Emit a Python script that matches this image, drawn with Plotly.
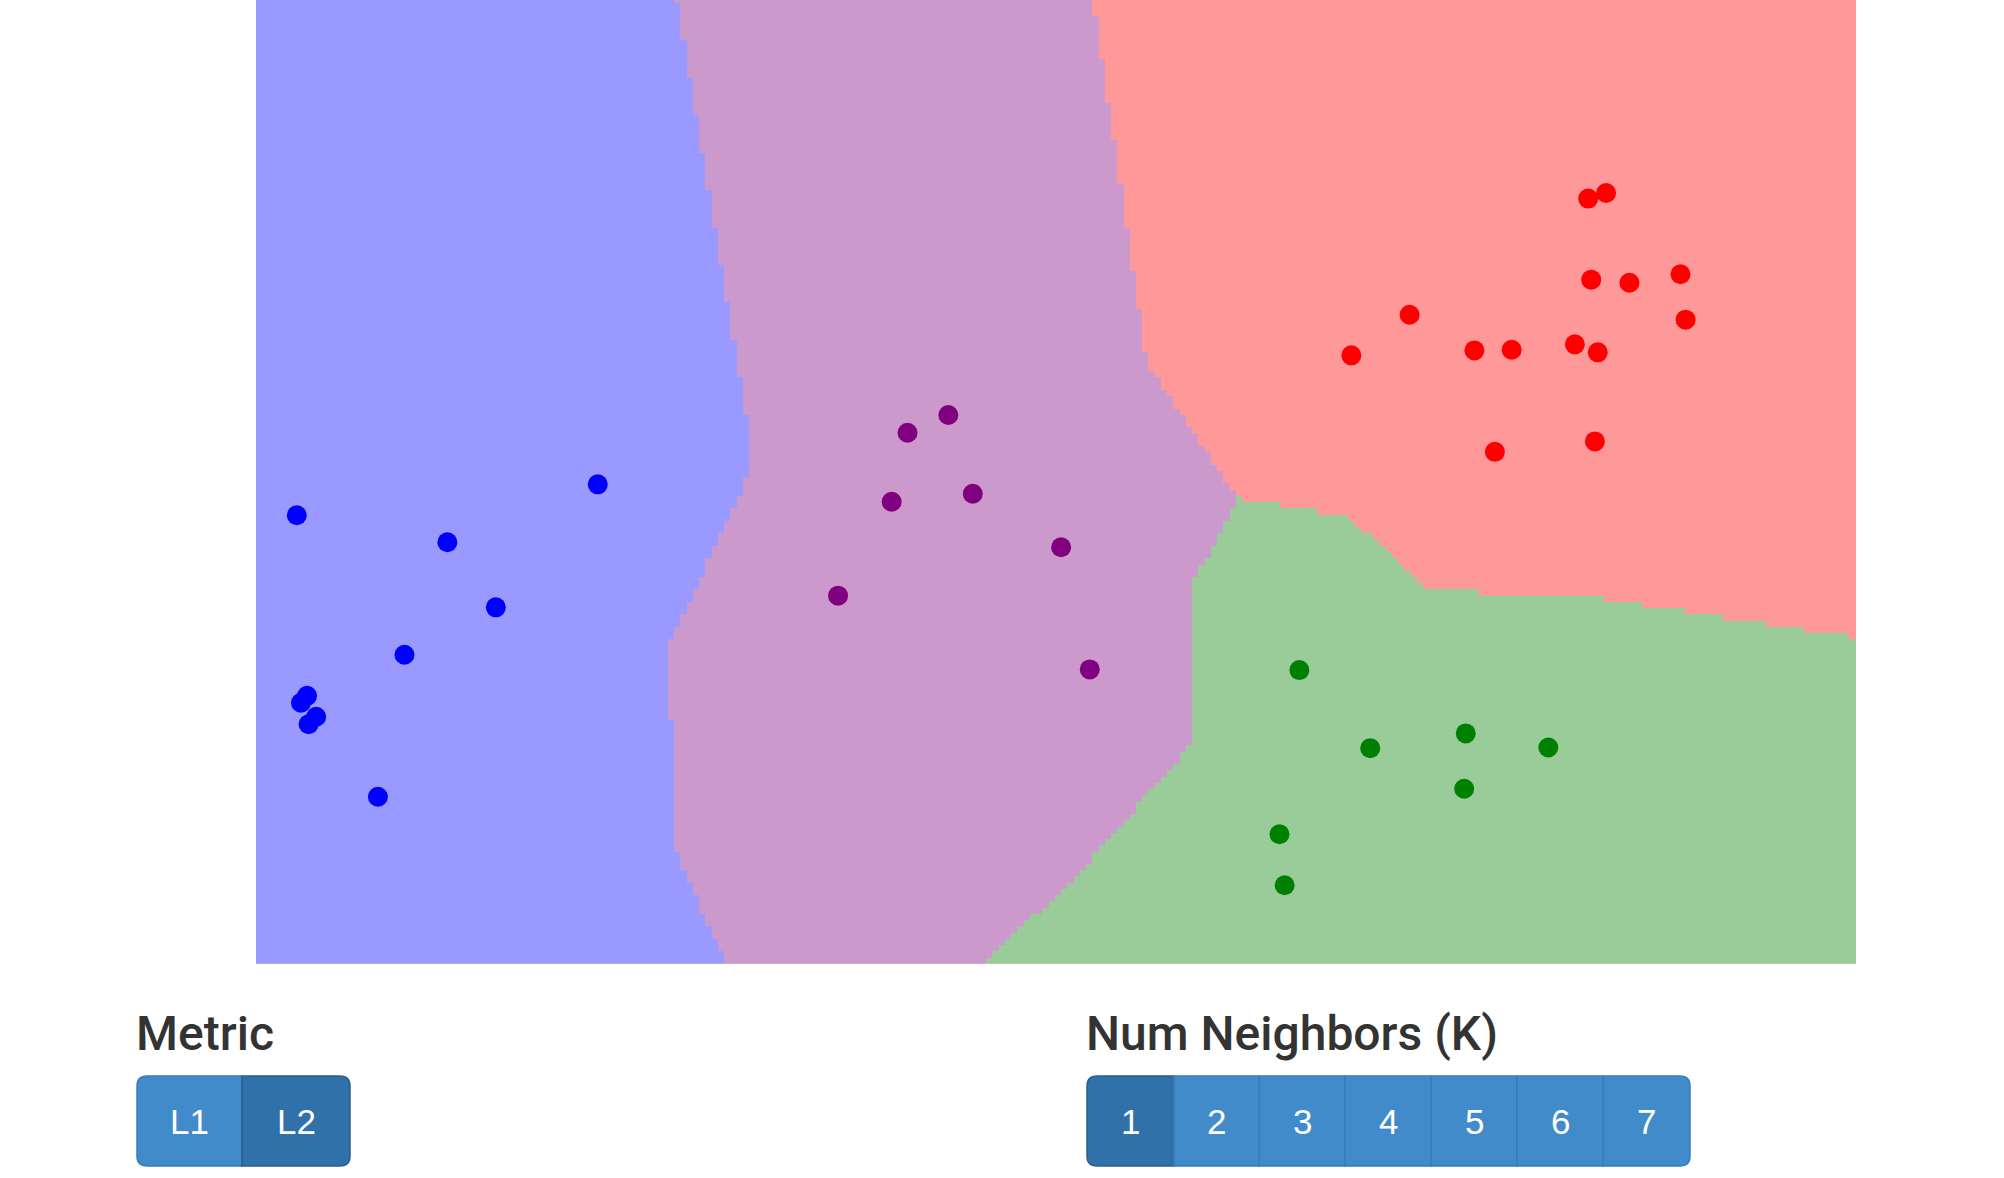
import numpy as np
import plotly.graph_objects as go

# ---------------- data (plot units: x 0..100, y 0..60.25) ----------------
blue_x = [2.55, 11.96, 21.36, 14.99, 9.28, 3.19, 2.81, 3.76, 3.29, 7.62]
blue_y = [28.05, 26.36, 29.98, 22.29, 19.33, 16.76, 16.33, 15.45, 14.99, 10.45]

purple_x = [43.27, 40.72, 39.73, 44.80, 36.38, 50.32, 52.11]
purple_y = [34.31, 33.20, 28.89, 29.39, 23.02, 26.05, 18.41]

red_x = [83.26, 84.38, 83.45, 85.84, 89.03, 89.35, 72.10, 68.46, 76.15, 78.48,
         82.43, 83.86, 77.43, 83.68]
red_y = [47.84, 48.19, 42.77, 42.58, 43.11, 40.27, 40.58, 38.04, 38.35, 38.39,
         38.73, 38.23, 32.01, 32.66]

green_x = [65.21, 69.64, 75.61, 80.77, 75.51, 63.97, 64.29]
green_y = [18.37, 13.49, 14.41, 13.53, 10.95, 8.11, 4.92]

point_colors = ["#0000ff", "#800080", "#ff0000", "#008000"]
region_colors = ["#9999ff", "#cc99cc", "#ff9999", "#99cc99"]

metric_labels = ["L1", "L2"]
active_metric = "L2"
k_labels = ["1", "2", "3", "4", "5", "6", "7"]
active_k = "1"

X_RANGE = [0, 100]
Y_RANGE = [0, 60.25]

# ---------------- KNN decision regions ----------------
classes = [(blue_x, blue_y), (purple_x, purple_y), (red_x, red_y), (green_x, green_y)]
tx = np.concatenate([np.array(c[0]) for c in classes])
ty = np.concatenate([np.array(c[1]) for c in classes])
tl = np.concatenate([np.full(len(c[0]), i) for i, c in enumerate(classes)])

cell = 0.39
gx = np.arange(X_RANGE[0] + cell / 2, X_RANGE[1] + cell / 2, cell)
gy = np.arange(Y_RANGE[0] + cell / 2, Y_RANGE[1] + cell / 2, cell)
GX, GY = np.meshgrid(gx, gy)
dx = GX[..., None] - tx
dy = GY[..., None] - ty
if active_metric == "L2":
    d = np.sqrt(dx ** 2 + dy ** 2)
else:
    d = np.abs(dx) + np.abs(dy)
K = int(active_k)
idx = np.argsort(d, axis=-1)[..., :K]
nl = tl[idx]
votes = np.stack([(nl == c).sum(-1) for c in range(4)], -1)
Z = np.argmax(votes, -1)

cs = []
n = len(region_colors)
for i, c in enumerate(region_colors):
    cs.append([i / n, c])
    cs.append([(i + 1) / n, c])

fig = go.Figure()
fig.add_trace(go.Heatmap(x=gx, y=gy, z=Z, zmin=-0.5, zmax=3.5, colorscale=cs,
                         showscale=False, zsmooth=False, hoverinfo="skip"))
for (xs, ys), col in zip(classes, point_colors):
    fig.add_trace(go.Scatter(x=xs, y=ys, mode="markers",
                             marker=dict(size=20, color=col, line=dict(width=0)),
                             showlegend=False))

# ---------------- layout helpers (pixel -> paper) ----------------
W, H = 2004, 1178
PL, PT, PW, PH = 256, 0, 1600, 964


def px(x):
    return (x - PL) / PW


def py(y):
    return (PT + PH - y) / PH


def rrect(x0, y0, x1, y1, tl_r, tr_r, br_r, bl_r):
    def P(x, y):
        return f"{px(x):.5f},{py(y):.5f}"
    s = f"M {P(x0 + tl_r, y0)} L {P(x1 - tr_r, y0)} "
    if tr_r:
        s += f"Q {P(x1, y0)} {P(x1, y0 + tr_r)} "
    s += f"L {P(x1, y1 - br_r)} "
    if br_r:
        s += f"Q {P(x1, y1)} {P(x1 - br_r, y1)} "
    s += f"L {P(x0 + bl_r, y1)} "
    if bl_r:
        s += f"Q {P(x0, y1)} {P(x0, y1 - bl_r)} "
    s += f"L {P(x0, y0 + tl_r)} "
    if tl_r:
        s += f"Q {P(x0, y0)} {P(x0 + tl_r, y0)} "
    s += "Z"
    return s


shapes = []
annotations = []
FONT = "Liberation Sans, Arial, sans-serif"
TITLE_FONT = "Roboto, Liberation Sans, Arial, sans-serif"


def button_group(labels, active, edges, y0, y1):
    r = 10
    for i, lab in enumerate(labels):
        x0, x1 = edges[i], edges[i + 1]
        first, last = i == 0, i == len(labels) - 1
        is_act = lab == active
        fill = "#3071a9" if is_act else "#428bca"
        line = "#285e8e" if is_act else "#357ebd"
        shapes.append(dict(type="path", xref="paper", yref="paper",
                           path=rrect(x0, y0, x1, y1,
                                      r if first else 0, r if last else 0,
                                      r if last else 0, r if first else 0),
                           fillcolor=fill, line=dict(color=line, width=1.5),
                           layer="above"))
        annotations.append(dict(x=px((x0 + x1) / 2), y=py((y0 + y1) / 2),
                                xref="paper", yref="paper", text=lab,
                                showarrow=False, xanchor="center", yanchor="middle",
                                font=dict(family=FONT, size=35, color="white")))


button_group(metric_labels, active_metric, [137, 242, 350], 1076, 1166)
k_edges = [1087, 1174, 1259, 1345, 1431, 1517, 1603, 1690]
button_group(k_labels, active_k, k_edges, 1076, 1166)

for txt, x in [("Metric", 134), ("Num Neighbors (K)", 1084)]:
    annotations.append(dict(x=px(x), y=py(1033), xref="paper", yref="paper", text=txt,
                            showarrow=False, xanchor="left", yanchor="middle",
                            font=dict(family=TITLE_FONT, size=48, color="#333333", weight=500)))

fig.update_layout(
    width=W, height=H,
    margin=dict(l=PL, r=W - PL - PW, t=PT, b=H - PT - PH, pad=0),
    paper_bgcolor="white", plot_bgcolor="white",
    xaxis=dict(range=X_RANGE, visible=False, showgrid=False, zeroline=False, fixedrange=True),
    yaxis=dict(range=Y_RANGE, visible=False, showgrid=False, zeroline=False, fixedrange=True),
    shapes=shapes, annotations=annotations, showlegend=False,
)

fig.write_html("out.html", config={"displayModeBar": False},
               post_script="document.body.style.margin='0';document.body.style.overflow='hidden';")
